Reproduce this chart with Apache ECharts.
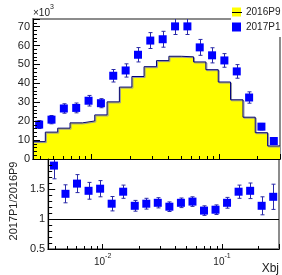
<!DOCTYPE html>
<html>
<head>
<meta charset="utf-8">
<script src="https://cdn.jsdelivr.net/npm/echarts@6/dist/echarts.min.js"></script>
<style>
  html, body { margin: 0; padding: 0; background: #fff; }
  #chart { width: 282px; height: 275px; }
</style>
</head>
<body>
<div id="chart"></div>
<script>
// bin edges in Xbj (log spaced)
var binEdges = [0.0035, 0.00437, 0.00546, 0.00682, 0.00852, 0.01065, 0.0133, 0.0166, 0.0208, 0.0259,
  0.0324, 0.0405, 0.0506, 0.0632, 0.0789, 0.0986, 0.123, 0.154, 0.192, 0.240, 0.300]
// counts, x10^3
var hist2016P9 = [9.2, 14.2, 16.3, 19.1, 20.1, 23.3, 30.2, 38.0, 43.6, 48.8, 52.0, 54.3, 54.0, 51.3, 47.2, 40.7, 31.3, 22.1, 13.9, 6.9]
var points2017P1 = [18.2, 20.8, 26.7, 27.0, 30.8, 29.5, 44.0, 46.8, 55.1, 62.6, 63.3, 70.1, 70.1, 59.0, 54.8, 52.1, 46.3, 32.5, 17.1, 9.5]
var errors2017P1 = [2.1, 2.2, 2.5, 2.6, 2.8, 2.4, 3.3, 3.5, 3.8, 4.2, 4.2, 4.3, 4.3, 4.2, 4.0, 3.6, 3.6, 3.0, 1.7, 1.5]
var ratioValues = [1.89, 1.42, 1.59, 1.47, 1.505, 1.255, 1.455, 1.22, 1.255, 1.27, 1.205, 1.27, 1.29, 1.14, 1.155, 1.27, 1.455, 1.47, 1.22, 1.37]
var ratioErrors = [0.22, 0.15, 0.15, 0.14, 0.135, 0.12, 0.11, 0.09, 0.09, 0.085, 0.08, 0.08, 0.08, 0.08, 0.08, 0.09, 0.11, 0.13, 0.15, 0.21]
var minorTicksX = [0.004, 0.005, 0.006, 0.007, 0.008, 0.009, 0.02, 0.03, 0.04, 0.05, 0.06, 0.07, 0.08, 0.09, 0.2]

var font = '"Liberation Sans", Arial, sans-serif'
var textColor = '#222'

var centers = []
for (var i = 0; i < hist2016P9.length; i++) {
  centers.push(Math.sqrt(binEdges[i] * binEdges[i + 1]))
}

var stepData = binEdges.map(function (e, i) {
  return [e, hist2016P9[Math.min(i, hist2016P9.length - 1)]]
})

function errorBar(params, api) {
  var x = api.value(0)
  var y = api.value(1)
  var e = api.value(2)
  var hi = api.coord([x, y + e])
  var lo = api.coord([x, y - e])
  var cx = Math.round(hi[0]) + 0.5
  var style = { stroke: '#2a2aa8', lineWidth: 1 }
  return {
    type: 'group',
    children: [
      { type: 'line', shape: { x1: cx, y1: hi[1], x2: cx, y2: lo[1] }, style: style },
      { type: 'line', shape: { x1: cx - 2, y1: hi[1], x2: cx + 2, y2: hi[1] }, style: style },
      { type: 'line', shape: { x1: cx - 2, y1: lo[1], x2: cx + 2, y2: lo[1] }, style: style }
    ]
  }
}

function minorTick(params, api) {
  var p = api.coord([api.value(0), api.value(1)])
  var cs = params.coordSys
  var yb = cs.y + cs.height
  var x = Math.round(p[0]) + 0.5
  return {
    type: 'line',
    shape: { x1: x, y1: yb, x2: x, y2: yb - 3 },
    style: { stroke: '#000', lineWidth: 1 }
  }
}

function powerLabel(v) {
  var l = Math.log10(v)
  if (Math.abs(l - Math.round(l)) > 1e-6) return ''
  return '{b|10}{s|' + Math.round(l) + '}'
}

var supRich = {
  b: { fontSize: 10, fontFamily: font, color: textColor, lineHeight: 14, verticalAlign: 'bottom' },
  s: { fontSize: 7, fontFamily: font, color: textColor, lineHeight: 14, verticalAlign: 'top' }
}

var axisLineStyle = { show: true, lineStyle: { color: '#000', width: 1 } }

var chart = echarts.init(document.getElementById('chart'))
chart.setOption({
  animation: false,
  textStyle: { fontFamily: font },
  grid: [
    { left: 33, right: 2, top: 19, height: 140, show: true, borderColor: '#8c8c8c', borderWidth: 2, backgroundColor: 'transparent' },
    { left: 33, right: 2, top: 159, height: 90, show: true, borderColor: '#8c8c8c', borderWidth: 2, backgroundColor: 'transparent' }
  ],
  xAxis: [
    {
      gridIndex: 0, type: 'log', logBase: 10, min: 0.0035, max: 0.3, z: 10,
      axisLine: axisLineStyle,
      axisTick: { show: true, inside: true, length: 5, lineStyle: { color: '#000' } },
      axisLabel: { show: false },
      splitLine: { show: false }
    },
    {
      gridIndex: 1, type: 'log', logBase: 10, min: 0.0035, max: 0.3, z: 10,
      axisLine: axisLineStyle,
      axisTick: { show: true, inside: true, length: 5, lineStyle: { color: '#000' } },
      axisLabel: { show: true, margin: 4, formatter: powerLabel, rich: supRich },
      splitLine: { show: false },
      name: 'Xbj', nameLocation: 'end', nameGap: 0,
      nameTextStyle: { fontSize: 12, color: textColor, align: 'right', verticalAlign: 'top', padding: [14, 0, 0, 0] }
    }
  ],
  yAxis: [
    {
      gridIndex: 0, type: 'value', min: 0, max: 74, interval: 10, z: 10,
      axisLine: axisLineStyle,
      axisTick: { show: true, inside: true, length: 7, lineStyle: { color: '#000' } },
      minorTick: { show: true, splitNumber: 5, length: 4, lineStyle: { color: '#000' } },
      splitLine: { show: false },
      axisLabel: { showMaxLabel: false, fontSize: 11, color: textColor, margin: 3 },
      name: '{b|×10}{s|3}', nameLocation: 'end', nameGap: 1,
      nameTextStyle: { align: 'left', verticalAlign: 'bottom', rich: supRich }
    },
    {
      gridIndex: 1, type: 'value', min: 0.5, max: 2, interval: 0.5, z: 10,
      axisLine: axisLineStyle,
      axisTick: { show: true, inside: true, length: 7, lineStyle: { color: '#000' } },
      minorTick: { show: true, splitNumber: 5, length: 4, lineStyle: { color: '#000' } },
      splitLine: { show: false },
      axisLabel: {
        fontSize: 11, color: textColor, margin: 3,
        formatter: function (v) { return v === 2 ? '' : String(v) }
      },
      name: '2017P1/2016P9', nameLocation: 'middle', nameGap: 18, nameRotate: 90,
      nameTextStyle: { fontSize: 11, color: textColor, padding: [0, 0, 0, 6] }
    }
  ],
  legend: {
    orient: 'vertical', left: 232, top: 7, padding: 0, itemGap: 5,
    itemWidth: 9, itemHeight: 9, z: 60,
    textStyle: { fontSize: 10, color: textColor, fontFamily: font },
    data: [
      { name: '2016P9', icon: 'rect', itemStyle: { color: '#ffff00', opacity: 1 } },
      { name: '2017P1', icon: 'rect', itemStyle: { color: '#0000ff', opacity: 1 } }
    ]
  },
  graphic: [
    { type: 'rect', z: 50, shape: { x: 231, y: 0, width: 51, height: 37 }, style: { fill: '#fff' } },
    { type: 'line', z: 70, shape: { x1: 232, y1: 12.5, x2: 242, y2: 12.5 }, style: { stroke: '#000', lineWidth: 1 } }
  ],
  series: [
    {
      name: '2016P9', type: 'line', xAxisIndex: 0, yAxisIndex: 0,
      step: 'end', symbol: 'none', data: stepData,
      lineStyle: { color: '#000080', width: 1, shadowColor: '#999', shadowOffsetX: 1, shadowOffsetY: 1 },
      areaStyle: { color: '#ffff00', opacity: 1 },
      itemStyle: { color: '#ffff00' }
    },
    {
      name: '2017P1err', type: 'custom', xAxisIndex: 0, yAxisIndex: 0, clip: true,
      renderItem: errorBar, encode: { x: 0, y: 1 },
      data: centers.map(function (c, i) { return [c, points2017P1[i], errors2017P1[i]] })
    },
    {
      name: '2017P1', type: 'scatter', xAxisIndex: 0, yAxisIndex: 0,
      symbol: 'rect', symbolSize: 8, itemStyle: { color: '#0000ff', opacity: 1 },
      data: centers.map(function (c, i) { return [c, points2017P1[i]] })
    },
    {
      name: 'ratioErr', type: 'custom', xAxisIndex: 1, yAxisIndex: 1, clip: true,
      renderItem: errorBar, encode: { x: 0, y: 1 },
      data: centers.map(function (c, i) { return [c, ratioValues[i], ratioErrors[i]] })
    },
    {
      name: 'ratio', type: 'scatter', xAxisIndex: 1, yAxisIndex: 1, clip: true,
      symbol: 'rect', symbolSize: 8, itemStyle: { color: '#0000ff', opacity: 1 },
      data: centers.map(function (c, i) { return [c, ratioValues[i]] }),
      markLine: {
        silent: true, symbol: 'none', label: { show: false },
        lineStyle: { color: '#000', width: 1, type: 'solid' },
        data: [{ yAxis: 1 }]
      }
    },
    {
      type: 'custom', xAxisIndex: 0, yAxisIndex: 0, renderItem: minorTick, z: 10,
      data: minorTicksX.map(function (v) { return [v, 0] })
    },
    {
      type: 'custom', xAxisIndex: 1, yAxisIndex: 1, renderItem: minorTick, z: 10,
      data: minorTicksX.map(function (v) { return [v, 0.5] })
    }
  ]
})
</script>
</body>
</html>
